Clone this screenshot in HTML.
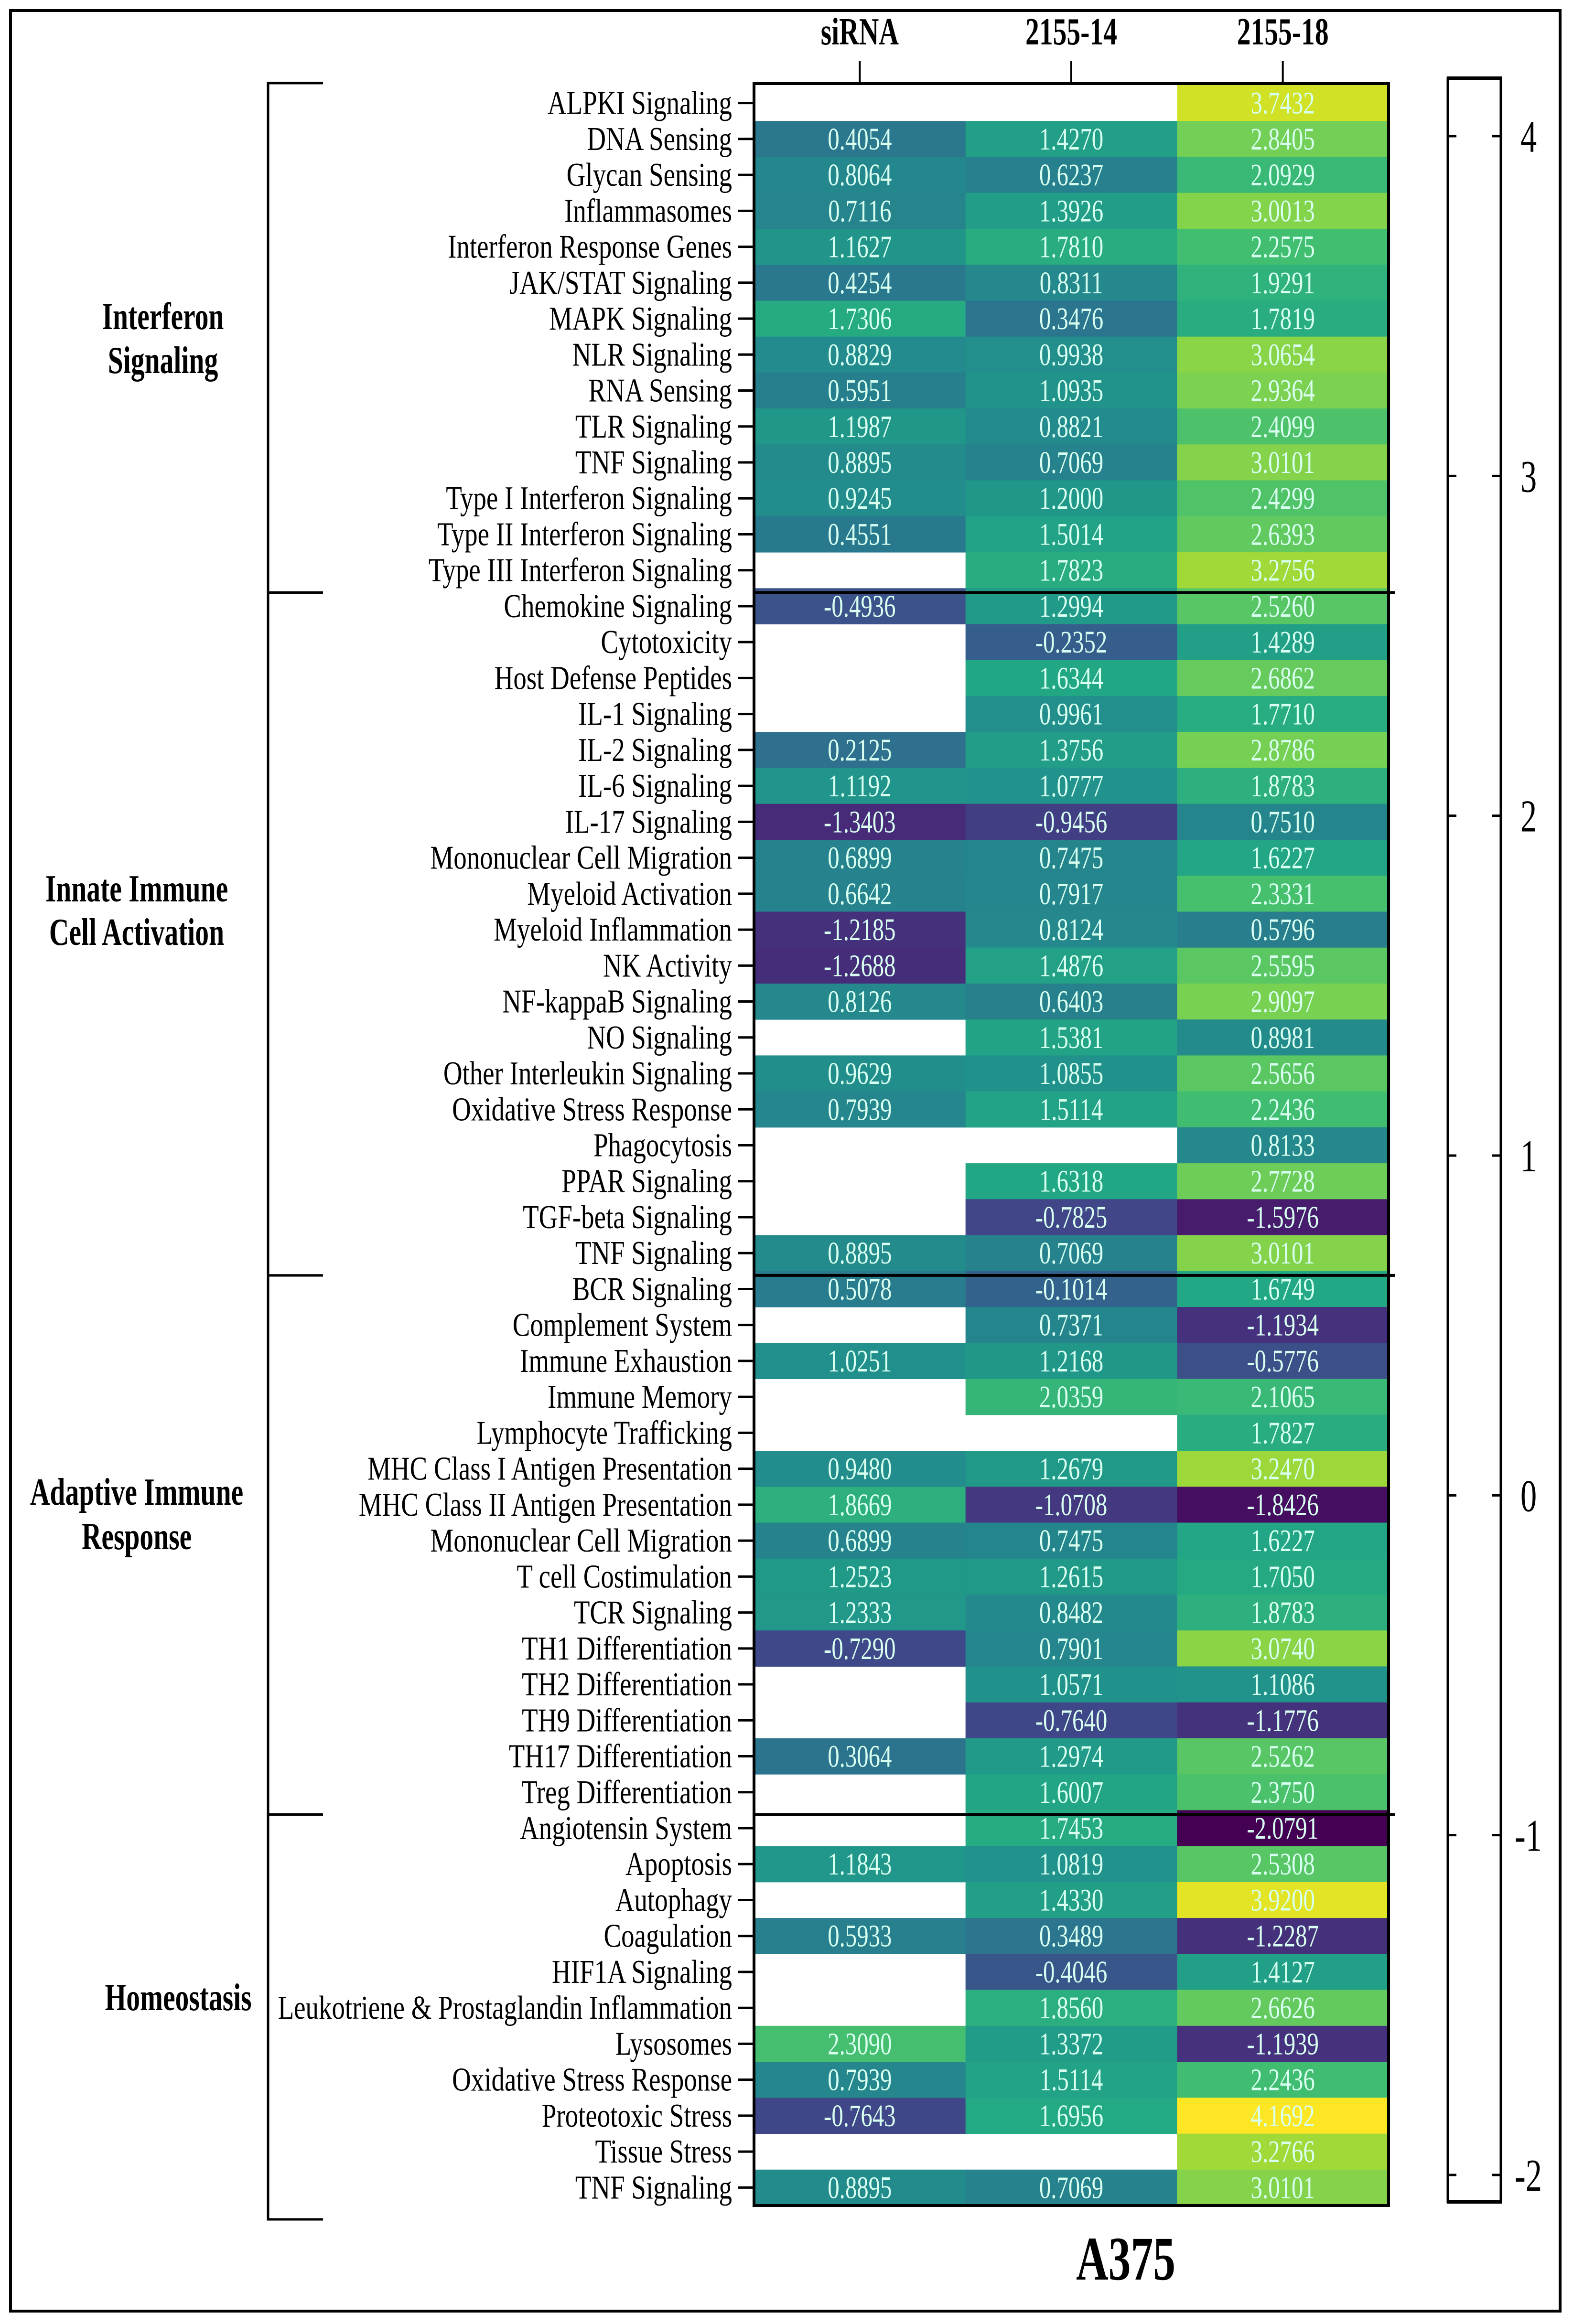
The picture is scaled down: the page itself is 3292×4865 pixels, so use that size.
<!DOCTYPE html>
<html><head><meta charset="utf-8"><style>
html,body{margin:0;padding:0;background:#fff;}
svg{display:block;}
text{font-family:"Liberation Serif",serif;}
</style></head><body>
<svg id="chart" width="3292" height="4865" viewBox="0 0 3292 4865" xmlns="http://www.w3.org/2000/svg">
<rect x="0" y="0" width="3292" height="4865" fill="#fff"/>
<rect x="22" y="22" width="3243" height="4816" fill="none" stroke="#000" stroke-width="6"/>
<g id="cells"></g>
<g id="overlay"></g>
</svg>
<script>
const columns = ["siRNA","2155-14","2155-18"];
const rowLabels = ["ALPKI Signaling","DNA Sensing","Glycan Sensing","Inflammasomes","Interferon Response Genes","JAK/STAT Signaling","MAPK Signaling","NLR Signaling","RNA Sensing","TLR Signaling","TNF Signaling","Type I Interferon Signaling","Type II Interferon Signaling","Type III Interferon Signaling",
"Chemokine Signaling","Cytotoxicity","Host Defense Peptides","IL-1 Signaling","IL-2 Signaling","IL-6 Signaling","IL-17 Signaling","Mononuclear Cell Migration","Myeloid Activation","Myeloid Inflammation","NK Activity","NF-kappaB Signaling","NO Signaling","Other Interleukin Signaling","Oxidative Stress Response","Phagocytosis","PPAR Signaling","TGF-beta Signaling","TNF Signaling",
"BCR Signaling","Complement System","Immune Exhaustion","Immune Memory","Lymphocyte Trafficking","MHC Class I Antigen Presentation","MHC Class II Antigen Presentation","Mononuclear Cell Migration","T cell Costimulation","TCR Signaling","TH1 Differentiation","TH2 Differentiation","TH9 Differentiation","TH17 Differentiation","Treg Differentiation",
"Angiotensin System","Apoptosis","Autophagy","Coagulation","HIF1A Signaling","Leukotriene & Prostaglandin Inflammation","Lysosomes","Oxidative Stress Response","Proteotoxic Stress","Tissue Stress","TNF Signaling"];
const siRNA = [null,0.4054,0.8064,0.7116,1.1627,0.4254,1.7306,0.8829,0.5951,1.1987,0.8895,0.9245,0.4551,null,
-0.4936,null,null,null,0.2125,1.1192,-1.3403,0.6899,0.6642,-1.2185,-1.2688,0.8126,null,0.9629,0.7939,null,null,null,0.8895,
0.5078,null,1.0251,null,null,0.9480,1.8669,0.6899,1.2523,1.2333,-0.7290,null,null,0.3064,null,
null,1.1843,null,0.5933,null,null,2.3090,0.7939,-0.7643,null,0.8895];
const c14 = [null,1.4270,0.6237,1.3926,1.7810,0.8311,0.3476,0.9938,1.0935,0.8821,0.7069,1.2000,1.5014,1.7823,
1.2994,-0.2352,1.6344,0.9961,1.3756,1.0777,-0.9456,0.7475,0.7917,0.8124,1.4876,0.6403,1.5381,1.0855,1.5114,null,1.6318,-0.7825,0.7069,
-0.1014,0.7371,1.2168,2.0359,null,1.2679,-1.0708,0.7475,1.2615,0.8482,0.7901,1.0571,-0.7640,1.2974,1.6007,
1.7453,1.0819,1.4330,0.3489,-0.4046,1.8560,1.3372,1.5114,1.6956,null,0.7069];
const c18 = [3.7432,2.8405,2.0929,3.0013,2.2575,1.9291,1.7819,3.0654,2.9364,2.4099,3.0101,2.4299,2.6393,3.2756,
2.5260,1.4289,2.6862,1.7710,2.8786,1.8783,0.7510,1.6227,2.3331,0.5796,2.5595,2.9097,0.8981,2.5656,2.2436,0.8133,2.7728,-1.5976,3.0101,
1.6749,-1.1934,-0.5776,2.1065,1.7827,3.2470,-1.8426,1.6227,1.7050,1.8783,3.0740,1.1086,-1.1776,2.5262,2.3750,
-2.0791,2.5308,3.9200,-1.2287,1.4127,2.6626,-1.1939,2.2436,4.1692,3.2766,3.0101];
const groupNames = [["Interferon","Signaling"],["Innate Immune","Cell  Activation"],["Adaptive Immune","Response"],["Homeostasis"]];
const groupSizes = [14,19,15,11];
const colorbarTicks = [4,3,2,1,0,-1,-2];
const colorMin = -2.0791, colorMax = 4.1692;

const NS="http://www.w3.org/2000/svg";
const svg=document.getElementById('chart');
const cellsG=document.getElementById('cells');
const ov=document.getElementById('overlay');
const X0=1578, X1=2906, Y0=178, Y1=4617;
const colW=(X1-X0)/columns.length, rowH=(Y1-Y0)/rowLabels.length;
const xCol=i=>X0+i*colW, yRow=i=>Y0+i*rowH;
const cbTop=164, cbBot=4609, cb4=285, cbm2=4553;
const yCb=v=>cbm2+(v-(-2))*(cb4-cbm2)/6;
const stops=["#440154","#482475","#414487","#355f8d","#2a788e","#21918c","#22a884","#44bf70","#7ad151","#bddf26","#fde725"];
function hex(h){return [1,3,5].map(k=>parseInt(h.substr(k,2),16));}
function viridis(v){let t=(v-colorMin)/(colorMax-colorMin);t=Math.max(0,Math.min(1,t));
 const p=t*10,i=Math.min(9,Math.floor(p)),f=p-i,a=hex(stops[i]),b=hex(stops[i+1]);
 return "rgb("+a.map((c,k)=>Math.round(c+(b[k]-c)*f)).join(",")+")";}
function mk(tag,attrs,parent){const e=document.createElementNS(NS,tag);for(const k in attrs)e.setAttribute(k,attrs[k]);(parent||ov).appendChild(e);return e;}
function txt(str,x,y,size,opts,parent){const o=opts||{};
 const t=mk('text',{transform:`translate(${x},${y}) scale(${o.sx||0.74},1)`,'font-size':size,'text-anchor':o.anchor||'middle',fill:o.fill||'#000','font-weight':o.bold?'bold':'normal'},parent);
 t.setAttribute('xml:space','preserve');t.textContent=str;return t;}

const series=[siRNA,c14,c18];
series.forEach((arr,c)=>{arr.forEach((v,r)=>{
  if(v===null||v===undefined) return;
  const rc=mk('rect',{x:xCol(c),y:yRow(r),width:colW+0.5,height:rowH+0.5,fill:viridis(v)},cellsG);
  
  
  const t=txt(v.toFixed(4),xCol(c)+colW/2,yRow(r)+rowH/2+22,66,{fill:'#d8fff0'},cellsG);
  
  
});});

const hb=mk('rect',{x:X0,y:Y0-3,width:X1-X0,height:Y1-Y0+3,fill:'none',stroke:'#000','stroke-width':6});



rowLabels.forEach((l,r)=>{
  const yc=yRow(r)+rowH/2;
  mk('line',{x1:1545,x2:X0,y1:yc,y2:yc,stroke:'#000','stroke-width':5});
  const t=txt(l,1532,yc+23,70,{anchor:'end',sx:0.785});
  
  
});

columns.forEach((c,i)=>{
  const xc=xCol(i)+colW/2;
  mk('line',{x1:xc,x2:xc,y1:128,y2:Y0-3,stroke:'#000','stroke-width':4});
  const t=txt(c,xc,93,80,{bold:true,sx:0.72});
  
  
});

let start=0;
const labelPos=[[341,[689,781]],[286,[1887,1978]],[286,[3150,3243]],[373,[4208]]];
groupSizes.forEach((n,g)=>{
  const yA=g===0?174:yRow(start)+9, yB=g===groupSizes.length-1?4646:yRow(start+n)+9;
  const br=mk('path',{d:`M676 ${yA} H561 V${yB} H676`,fill:'none',stroke:'#000','stroke-width':5});
  
  
  if(g<groupSizes.length-1){
    const s=mk('line',{x1:X0,x2:2920,y1:yRow(start+n)+9,y2:yRow(start+n)+9,stroke:'#000','stroke-width':6});
    
    
  }
  groupNames[g].forEach((line,k)=>{
    const t=txt(line,labelPos[g][0],labelPos[g][1][k],80,{bold:true,sx:0.72});
    
    
  });
  start+=n;
});

const cb=mk('rect',{x:3030,y:cbTop,width:111,height:cbBot-cbTop,fill:'#fff',stroke:'#000','stroke-width':5});


mk('line',{x1:3028,x2:3143,y1:cbTop,y2:cbTop,stroke:'#000','stroke-width':8});
mk('line',{x1:3028,x2:3143,y1:cbBot,y2:cbBot,stroke:'#000','stroke-width':8});
colorbarTicks.forEach(v=>{
  const y=yCb(v);
  mk('line',{x1:3030,x2:3048,y1:y,y2:y,stroke:'#000','stroke-width':5});
  mk('line',{x1:3123,x2:3141,y1:y,y2:y,stroke:'#000','stroke-width':5});
  const t=txt(String(v),v<0?3170:3182,y+33,95,{anchor:'start',sx:0.72});
  
  
});

const tt=txt("A375",2356,4772,130,{bold:true,sx:0.72});


</script>
</body></html>
